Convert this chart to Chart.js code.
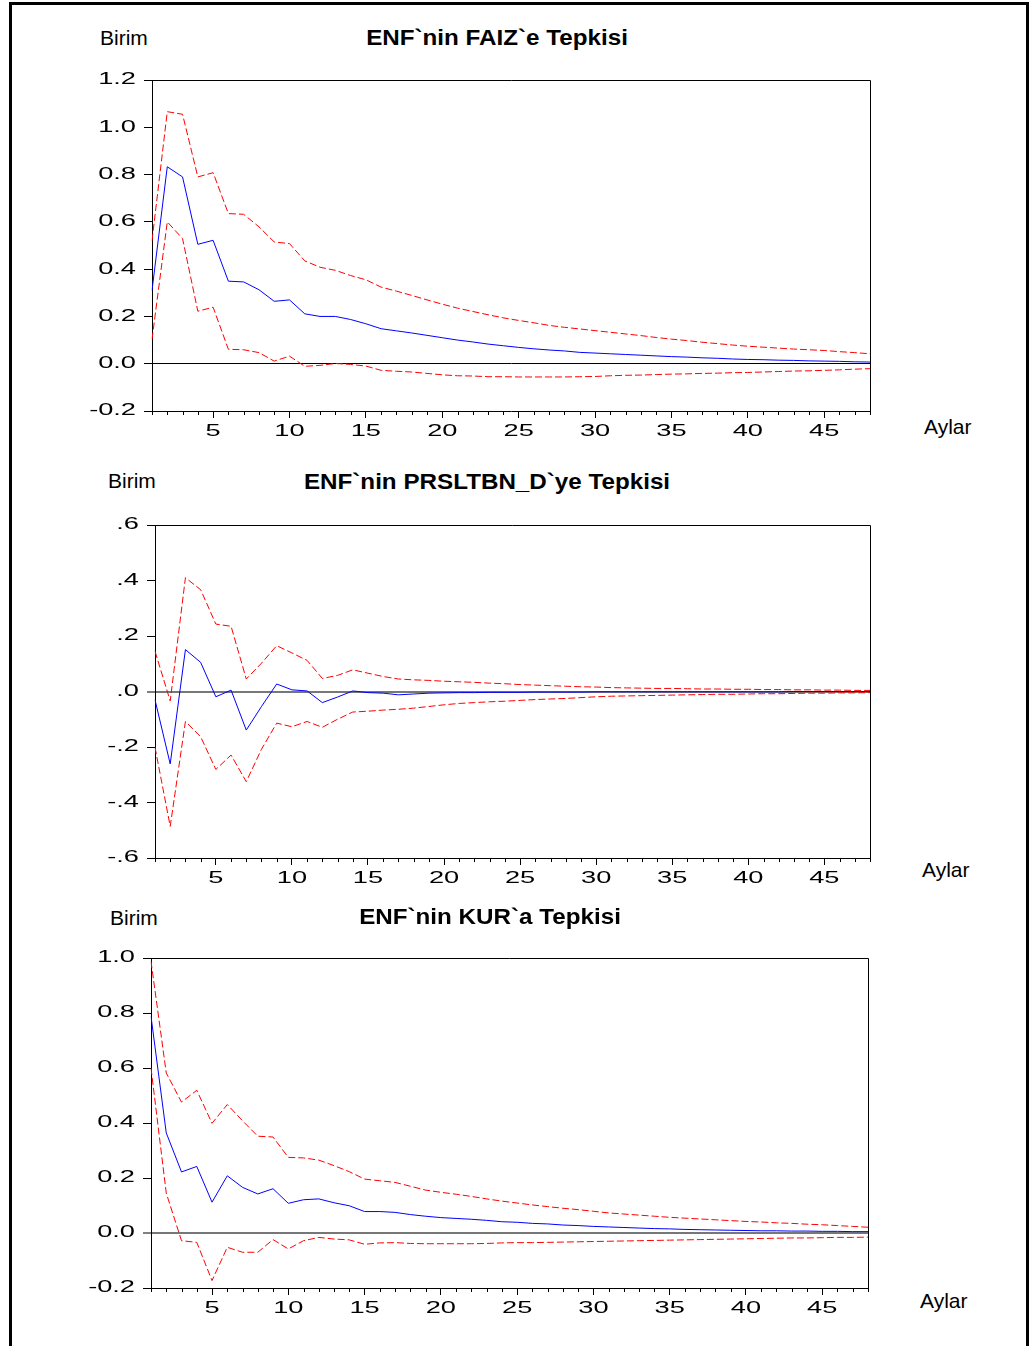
<!DOCTYPE html>
<html>
<head>
<meta charset="utf-8">
<script src="https://cdn.jsdelivr.net/npm/chart.js@4.4.0/dist/chart.umd.min.js"></script>
<style>
    body {
        margin: 0;
        background: #fff;
        width: 1035px;
        height: 1346px;
        position: relative;
        overflow: hidden;
        font-family: "Liberation Sans", Arial, sans-serif;
    }
    .frame {
        position: absolute;
        left: 9px;
        top: 2px;
        width: 1014px;
        height: 1360px;
        border: 3px solid #000;
    }
    canvas {
        position: absolute;
        left: 0;
    }
    .lbl {
        position: absolute;
        font-size: 21px;
        line-height: 24px;
        color: #000;
        white-space: nowrap;
    }
    .title {
        position: absolute;
        font-size: 22px;
        font-weight: bold;
        line-height: 26px;
        white-space: nowrap;
        transform: translate(-50%, -50%) scaleX(1.1);
    }
</style>
</head>
<body>
<div class="frame"></div>

<div class="lbl" style="left:100px; top:26px;">Birim</div>
<div class="title" style="left:497px; top:38px;">ENF`nin FAIZ`e Tepkisi</div>
<div class="lbl" style="left:924px; top:415px;">Aylar</div>
<canvas id="faizChart"></canvas>

<div class="lbl" style="left:108px; top:469px;">Birim</div>
<div class="title" style="left:487px; top:482px;">ENF`nin PRSLTBN_D`ye Tepkisi</div>
<div class="lbl" style="left:922px; top:858px;">Aylar</div>
<canvas id="prsChart"></canvas>

<div class="lbl" style="left:110px; top:906px;">Birim</div>
<div class="title" style="left:490px; top:917px;">ENF`nin KUR`a Tepkisi</div>
<div class="lbl" style="left:920px; top:1289px;">Aylar</div>
<canvas id="kurChart"></canvas>

<script>
const periods = [1, 2, 3, 4, 5, 6, 7, 8, 9, 10, 11, 12, 13, 14, 15, 16, 17, 18, 19, 20, 21, 22, 23, 24,
    25, 26, 27, 28, 29, 30, 31, 32, 33, 34, 35, 36, 37, 38, 39, 40, 41, 42, 43, 44, 45, 46, 47, 48];

// ENF'nin FAIZ'e tepkisi
const faizResp = [0.310, 0.833, 0.790, 0.505, 0.522, 0.349, 0.346, 0.313, 0.264, 0.270,
    0.211, 0.200, 0.200, 0.187, 0.169, 0.148, 0.139, 0.130, 0.120, 0.110,
    0.100, 0.092, 0.083, 0.076, 0.069, 0.063, 0.058, 0.054, 0.048, 0.045,
    0.042, 0.039, 0.036, 0.033, 0.030, 0.028, 0.025, 0.023, 0.020, 0.018,
    0.017, 0.015, 0.014, 0.012, 0.011, 0.010, 0.008, 0.007];
const faizUpper = [0.520, 1.066, 1.055, 0.790, 0.808, 0.635, 0.632, 0.579, 0.515, 0.508,
    0.435, 0.408, 0.395, 0.373, 0.355, 0.324, 0.307, 0.289, 0.270, 0.252,
    0.235, 0.221, 0.207, 0.194, 0.183, 0.173, 0.162, 0.154, 0.147, 0.140,
    0.133, 0.126, 0.119, 0.111, 0.104, 0.098, 0.091, 0.085, 0.079, 0.074,
    0.070, 0.066, 0.062, 0.059, 0.056, 0.051, 0.047, 0.042];
const faizLower = [0.103, 0.600, 0.529, 0.222, 0.239, 0.061, 0.059, 0.047, 0.011, 0.032,
    -0.011, -0.007, 0.001, -0.003, -0.010, -0.028, -0.032, -0.035, -0.041, -0.047,
    -0.051, -0.052, -0.055, -0.055, -0.056, -0.056, -0.056, -0.056, -0.055, -0.054,
    -0.051, -0.049, -0.048, -0.046, -0.044, -0.043, -0.041, -0.040, -0.038, -0.037,
    -0.035, -0.033, -0.031, -0.030, -0.028, -0.026, -0.023, -0.021];

// ENF'nin PRSLTBN_D'ye tepkisi
const prsResp = [-0.030, -0.261, 0.151, 0.105, -0.019, 0.005, -0.139, -0.054, 0.027, 0.006,
    0.002, -0.040, -0.020, 0.002, -0.004, -0.006, -0.012, -0.009, -0.006, -0.005,
    -0.004, -0.004, -0.003, -0.003, -0.003, -0.002, -0.002, -0.002, -0.002, -0.001,
    -0.001, -0.001, -0.001, -0.001, -0.001, -0.001, -0.001, -0.001, -0.001, -0.001,
    -0.001, -0.001, 0.000, 0.000, 0.000, 0.000, 0.000, 0.000];
const prsUpper = [0.145, -0.034, 0.410, 0.367, 0.243, 0.235, 0.045, 0.102, 0.165, 0.139,
    0.112, 0.047, 0.058, 0.078, 0.066, 0.054, 0.045, 0.042, 0.040, 0.037,
    0.035, 0.033, 0.030, 0.028, 0.025, 0.023, 0.021, 0.019, 0.017, 0.016,
    0.014, 0.013, 0.012, 0.011, 0.011, 0.010, 0.009, 0.009, 0.008, 0.008,
    0.007, 0.007, 0.006, 0.006, 0.005, 0.005, 0.004, 0.004];
const prsLower = [-0.201, -0.486, -0.108, -0.163, -0.281, -0.229, -0.325, -0.208, -0.114, -0.127,
    -0.108, -0.129, -0.100, -0.074, -0.071, -0.067, -0.064, -0.060, -0.054, -0.048,
    -0.043, -0.040, -0.037, -0.035, -0.032, -0.029, -0.027, -0.025, -0.022, -0.019,
    -0.017, -0.016, -0.015, -0.014, -0.013, -0.012, -0.011, -0.010, -0.010, -0.009,
    -0.008, -0.008, -0.007, -0.006, -0.006, -0.005, -0.005, -0.004];

// ENF'nin KUR'a tepkisi
const kurResp = [0.788, 0.364, 0.222, 0.242, 0.112, 0.208, 0.166, 0.142, 0.161, 0.108,
    0.121, 0.124, 0.110, 0.099, 0.078, 0.078, 0.075, 0.067, 0.061, 0.056,
    0.053, 0.050, 0.046, 0.041, 0.039, 0.035, 0.033, 0.029, 0.027, 0.024,
    0.022, 0.020, 0.018, 0.016, 0.015, 0.013, 0.012, 0.011, 0.010, 0.009,
    0.008, 0.008, 0.007, 0.007, 0.006, 0.006, 0.005, 0.005];
const kurUpper = [0.988, 0.582, 0.476, 0.519, 0.399, 0.467, 0.408, 0.352, 0.349, 0.275,
    0.273, 0.265, 0.245, 0.223, 0.196, 0.190, 0.184, 0.170, 0.156, 0.148,
    0.141, 0.133, 0.124, 0.116, 0.109, 0.102, 0.096, 0.090, 0.085, 0.079,
    0.073, 0.069, 0.065, 0.061, 0.057, 0.054, 0.051, 0.048, 0.045, 0.042,
    0.040, 0.037, 0.035, 0.032, 0.030, 0.027, 0.024, 0.021];
const kurLower = [0.600, 0.145, -0.028, -0.034, -0.173, -0.052, -0.070, -0.070, -0.024, -0.058,
    -0.028, -0.016, -0.022, -0.025, -0.041, -0.036, -0.035, -0.038, -0.039, -0.039,
    -0.039, -0.039, -0.038, -0.036, -0.035, -0.035, -0.034, -0.033, -0.032, -0.031,
    -0.030, -0.029, -0.028, -0.027, -0.026, -0.025, -0.024, -0.023, -0.022, -0.021,
    -0.020, -0.019, -0.018, -0.018, -0.017, -0.016, -0.016, -0.015];

function decimalLabel(v) {
    if (Math.abs(v) < 1e-9) v = 0;
    return v.toFixed(1);
}

function shortLabel(v) {
    return decimalLabel(v).replace('0.', '.');
}

// frame, minor ticks and the wide eviews-style tick labels
const panelPlugin = {
    id: 'panel',
    afterDraw(chart, args, opts) {
        const ctx = chart.ctx;
        const area = chart.chartArea;
        const x = chart.scales.x;
        const y = chart.scales.y;

        ctx.save();
        ctx.strokeStyle = '#000';
        ctx.lineWidth = 1;
        ctx.beginPath();
        ctx.moveTo(area.left, area.top + 0.5);
        ctx.lineTo(area.right + 0.5, area.top + 0.5);
        ctx.lineTo(area.right + 0.5, area.bottom);
        ctx.stroke();

        ctx.beginPath();
        chart.data.labels.forEach((lab, i) => {
            if (lab % 5 === 0) return;
            const px = Math.round(x.getPixelForTick(i)) + 0.5;
            ctx.moveTo(px, area.bottom);
            ctx.lineTo(px, area.bottom + 4);
        });
        ctx.stroke();

        ctx.fillStyle = '#000';
        ctx.font = '16px "Liberation Sans", Arial, sans-serif';
        ctx.textBaseline = 'middle';

        ctx.textAlign = 'center';
        chart.data.labels.forEach((lab, i) => {
            if (lab % 5 !== 0) return;
            ctx.save();
            ctx.translate(x.getPixelForTick(i), area.bottom + 20.5);
            ctx.scale(1.7, 1);
            ctx.fillText(String(lab), 0, 0);
            ctx.restore();
        });

        ctx.textAlign = 'right';
        y.ticks.forEach(t => {
            ctx.save();
            ctx.translate(area.left - 16, y.getPixelForValue(t.value));
            ctx.scale(1.7, 1);
            ctx.fillText(opts.format(t.value), 0, 0);
            ctx.restore();
        });
        ctx.restore();
    }
};

function createPanel(id, p) {
    const canvas = document.getElementById(id);
    canvas.width = 1035;
    canvas.height = p.height;
    canvas.style.top = p.top + 'px';

    new Chart(canvas, {
        type: 'line',
        data: {
            labels: periods,
            datasets: [{
                data: p.resp,
                borderColor: '#0000ff',
                borderWidth: 1,
                pointRadius: 0,
                tension: 0
            }, {
                data: p.upper,
                borderColor: '#ff0000',
                borderWidth: 1,
                borderDash: [7, 3],
                pointRadius: 0,
                tension: 0
            }, {
                data: p.lower,
                borderColor: '#ff0000',
                borderWidth: 1,
                borderDash: [7, 3],
                pointRadius: 0,
                tension: 0
            }]
        },
        options: {
            responsive: false,
            animation: false,
            events: [],
            layout: {
                padding: { top: p.plotTop - p.top, right: 1035 - p.plotRight, left: 0, bottom: 0 }
            },
            plugins: {
                legend: { display: false },
                tooltip: { enabled: false },
                panel: { format: p.format }
            },
            scales: {
                x: {
                    type: 'category',
                    offset: false,
                    ticks: { display: false, autoSkip: false },
                    grid: {
                        drawOnChartArea: false,
                        tickLength: 7,
                        tickWidth: 1,
                        tickColor: c => (c.index + 1) % 5 === 0 ? '#000' : 'rgba(0,0,0,0)'
                    },
                    border: { color: '#000', width: 1 },
                    afterFit: s => { s.height = p.top + p.height - p.plotBottom; }
                },
                y: {
                    min: p.yMin,
                    max: p.yMax,
                    ticks: { display: false, stepSize: 0.2 },
                    grid: {
                        tickLength: 8,
                        tickWidth: 1,
                        tickColor: '#000',
                        color: c => Math.abs(c.tick.value) < 1e-9 ? p.zeroColor : 'rgba(0,0,0,0)',
                        lineWidth: c => Math.abs(c.tick.value) < 1e-9 ? p.zeroWidth : 1
                    },
                    border: { color: '#000', width: 1 },
                    afterFit: s => { s.width = p.plotLeft; }
                }
            }
        },
        plugins: [panelPlugin]
    });
}

createPanel('faizChart', {
    top: 60, height: 400, plotTop: 80, plotBottom: 411, plotLeft: 152, plotRight: 870,
    yMin: -0.2, yMax: 1.2, format: decimalLabel, zeroColor: '#000', zeroWidth: 1,
    resp: faizResp, upper: faizUpper, lower: faizLower
});

createPanel('prsChart', {
    top: 505, height: 400, plotTop: 525, plotBottom: 858, plotLeft: 155, plotRight: 870,
    yMin: -0.6, yMax: 0.6, format: shortLabel, zeroColor: '#777', zeroWidth: 2,
    resp: prsResp, upper: prsUpper, lower: prsLower
});

createPanel('kurChart', {
    top: 938, height: 395, plotTop: 958, plotBottom: 1288, plotLeft: 151, plotRight: 868,
    yMin: -0.2, yMax: 1.0, format: decimalLabel, zeroColor: '#777', zeroWidth: 2,
    resp: kurResp, upper: kurUpper, lower: kurLower
});
</script>
</body>
</html>
